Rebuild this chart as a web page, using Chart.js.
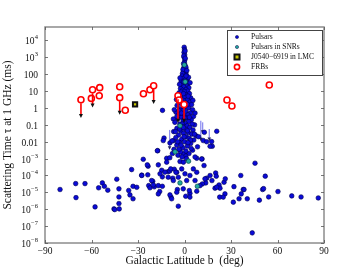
<!DOCTYPE html>
<html><head><meta charset="utf-8">
<script src="https://cdn.jsdelivr.net/npm/chart.js@4/dist/chart.umd.min.js"></script>
<style>html,body{margin:0;padding:0;background:#fff}#wrap{width:360px;height:270px;position:relative}</style>
</head><body><div id="wrap"><canvas id="c" width="360" height="270"></canvas></div>
<script>
// ---------- DATA ----------
const xTickValues = [-90, -60, -30, 0, 30, 60, 90];
const xTickLabels = ['\u221290', '\u221260', '\u221230', '0', '30', '60', '90'];
const yTickValues = [1e-8, 1e-7, 1e-6, 1e-5, 1e-4, 1e-3, 1e-2, 1e-1, 1, 10, 100, 1e3, 1e4];
const yTickBase = ['10', '10', '10', '10', '10', '10', '0.01', '0.1', '1', '10', '100', '10', '10'];
const yTickSup  = ['\u22128', '\u22127', '\u22126', '\u22125', '\u22124', '\u22123', '', '', '', '', '', '3', '4'];

// pulsars: [galactic latitude b (deg), log10 scattering time (ms)]
const pulsarPoints = [
 [-80.3,-4.83],[-70.2,-4.48],[-70,-5.31],[-64.2,-4.48],[-57.7,-5.86],[-55.4,-4.73],[-53,-4.44],[-51.7,-4.64],
 [-49.5,-4.87],[-45.5,-5.98],[-45.0,-6.02],[-43.7,-4.22],[-42.3,-4.79],[-42.3,-5.27],[-42.3,-5.66],[-42.1,-5.98],
 [-36,-4.89],[-35.2,-5.15],[-34.1,-3.65],[-33.2,-5.38],[-33.2,-4.64],[-30.8,-4.7],[-27.6,-3.98],[-26.6,-3.04],
 [-23.5,-3.45],[-23.7,-3.96],[-23.1,-4.6],[-22.3,-4.73],[-20.5,-4.34],[-19.5,-4.67],[-16.9,-3.37],[-16.9,-4.6],
 [-16,-4.95],[-17.3,-2.53],[-14.7,-3.69],[-14.3,-4.08],[-14.3,-4.64],[-11.5,-2.98],[-10.5,-3.77],[-9.5,-3.73],
 [-8.7,-5.28],[-7.6,-4.16],[-6.6,-3.63],[-5,-3.81],[-4.6,-4.83],[-4,-5.82],[-7,-1.93],
 [0.8,-5.23],[3.5,-5.05],[7.9,-4.93],[11.3,-3.02],[12.6,-3.41],[14.3,-4.16],[13.7,-4.44],[11.5,-4.5],
 [17.9,-2.27],[17.7,-4.3],[20.1,-3.85],[20.5,-4.04],[22.3,-4.56],[19.7,-4.75],[22.9,-4.75],[22.7,-5.28],
 [25.5,-4.4],[26.3,-4.2],[26.1,-5.09],[25,-5.28],[31.9,-4.66],[31.5,-5.58],[35.2,-5.38],[36.6,-5.09],
 [37.9,-4.83],[40.5,-5.38],[36.3,-4.0],[45.5,-3.27],[43.7,-7.4],[48.3,-5.46],[50.4,-4.83],[51.0,-4.78],
 [52.1,-4.04],[54.3,-5.27],[60.3,-4.95],[69.2,-5.21],[75.2,-5.27],[86.3,-5.33],[38.4,-4.83],
 [-13.2,-1.78],[-9.4,-2.07],[-17.5,-2.53],[-11.5,-3.21],[-15.8,-3.9],[-12.6,-3.8],[-10.5,-4.1],[-8.9,-3.61],
 [-7.2,-4.3],[-5.5,-3.81],[-4,-4.1],[-1.8,-3.61],[0.3,-3.9],[1.4,-4.3],[3.5,-4.0],[5.7,-3.61],[6.8,-4.3],
 [7.9,-3.81],[10,-4.6],[13.2,-4.2],[16.5,-4.0],[20.8,-4.69],[3.1,-4.89],[-0.8,-4.79],[-5,-4.99],[-9.4,-5.15],
 [-16.9,-5.09],[-8.3,-5.38],[3.5,-5.28],[7.9,-2.98],[-0.8,-2.72],[-2.9,-3.17],[-0.7,-3.21],[11.1,-3.02],
 [20.8,-1.38],[17.5,-1.99],[16.5,-2.27],[12.1,-1.93],[-13.7,-1.93],[-24,-3.37],[-21.2,-4.3],[-20.1,-4.56],
 [-27.6,-4.0],[-14.2,-0.14],[-7.2,-0.65],[14.3,-2.0],[12.8,-1.44],
 [-0.2,3.6],[0,3.45],[-0.3,3.3],[0.1,3.15],[-0.2,3.0],[0.2,2.85],[-0.1,2.7],[0.3,2.55],[-0.4,2.4],[0.5,2.3],
 [-0.6,2.2],[0.8,2.1],[-0.2,2.0],[1.2,1.95],[0.4,3.38],[-0.5,3.08],[0.5,2.95],[-0.6,2.62],[0.9,2.42],[-1.0,2.28],
 [1.5,2.22],[-1.3,2.05],[-1.5,1.9],[0.6,1.85],[-0.8,1.75],[1.8,1.7],[0.2,1.65],[-2.2,1.6],[1.1,1.55],[-1.1,1.5],
 [2.4,1.45],[0.4,1.4],[-1.8,1.35],[1.6,1.3],[-0.5,1.25],[2.8,1.2],[-2.6,1.15],[0.9,1.1],[-1.3,1.05],[2.1,1.0],
 [-0.2,0.98],[-2.9,1.78],[2.6,1.82],[-3.2,1.4],[3.6,1.5],[1.0,1.9],[-0.4,1.55],[-3.5,0.9],[3.2,0.85],[-1.5,0.8],
 [1.2,0.75],[-4.2,0.7],[0.1,0.65],[4.0,0.6],[-2.5,0.55],[2.0,0.5],[-0.8,0.45],[-3.8,0.4],[3.5,0.35],[0.7,0.3],
 [-1.9,0.25],[4.6,0.2],[-4.8,0.15],[1.5,0.1],[-0.3,0.05],[2.8,0.0],[-2.9,-0.05],[5.2,-0.1],[-1.2,-0.15],
 [0.9,-0.2],[-5.5,-0.25],[3.8,-0.3],[-3.4,-0.35],[2.2,-0.4],[-0.5,-0.45],[5.8,-0.5],[-2.1,-0.55],[1.4,-0.6],
 [-4.4,-0.65],[4.4,-0.7],[-0.9,-0.75],[2.7,-0.8],[-6.2,-0.85],[0.3,-0.9],[-3.0,-0.95],[6.5,-1.0],[1.8,-1.05],
 [-2.2,0.95],[2.4,0.7],[-0.6,0.85],[-5.2,0.5],[5.4,0.45],[-1.4,0.35],[1.9,0.22],[-3.6,-0.15],[3.1,-0.55],
 [-2.0,-0.3],[0.2,-0.6],[-4.9,-0.5],[4.9,-0.95],[-1.4,-0.95],[6.8,-0.3],[-6.6,-0.1],
 [-1.6,-1.1],[3.4,-1.15],[-4.9,-1.2],[0.6,-1.25],[5.5,-1.3],[-2.4,-1.35],[-7.0,-1.4],[2.5,-1.45],[-0.7,-1.5],
 [4.7,-1.55],[-3.8,-1.6],[7.5,-1.65],[1.2,-1.7],[-5.6,-1.75],[3.0,-1.8],[-1.8,-1.85],[6.0,-1.9],[-8.0,-1.95],
 [0.0,-2.0],[-3.2,-2.05],[4.0,-2.1],[-5.0,-2.2],[1.9,-2.25],[8.4,-2.3],[-1.1,-2.35],[-6.8,-2.45],[5.2,-2.5],
 [-2.6,-2.6],[2.9,-2.7],[-4.2,-2.8],[0.8,-2.85],[6.8,-2.9],[-9.5,-2.95],
 [-3.1,-1.25],[1.9,-1.35],[-0.3,-1.7],[3.9,-1.9],[-4.4,-2.0],[2.3,-2.05],[-2.2,-2.2],[0.9,-2.55],[-5.8,-1.4],
 [6.4,-1.55],[-0.8,-1.15],[4.3,-2.4],[-3.6,-2.45],[-7.8,-2.7],[9.0,-1.7],[1.3,-3.0],[-1.6,-2.9]
];
// pulsars in supernova remnants: [b, log10 tau]
const snrPoints = [[-0.1,2.55],[0.5,1.55],[-2.9,-1.05],[-6.1,-2.6],[2.6,-3.15],[-2.9,-4.44],[8.3,-4.64]];
// pulsar upper limits: [b, log10 tau top, log10 tau arrow tip]
const pulsarLimits = [[-9.6,-1.3,-2.45],[0.9,-1.2,-2.8],[10.5,-0.75,-1.93],[11.7,-0.85,-1.5],[16.0,-1.24,-1.93]];
// J0540-6919 in LMC
const lmcB = [-31.9];
const lmcTau = [1.66];
// FRBs: b, tau (ms), arrow tip tau (null = no limit arrow)
const frbB        = [-66.8, -60.1, -59.3, -54.7, -55.0, -41.8, -41.8, -38.2, -26.5, -22.3, -19.9, -4.2, -3.5, -0.3, 27.4, 30.6, 54.7];
const frbTau      = [3.1,   3.7,   12,    16,    5.3,   18,    4.1,   0.73,  7,     12,    21,    5.3,  3.0,  1.6,  3.0,  1.3,  23];
const frbLimitTau = [0.28,  null,  1.2,   null,  null,  null,  0.44,  null,  null,  null,  1.9,   0.15, null, 0.15, null, null, null];

// ---------- CHART ----------
const FONT = "'Liberation Serif', 'DejaVu Serif', serif";
const toXY = (arr) => arr.map(p => ({x: p[0], y: Math.pow(10, p[1])}));

const framePlugin = {
  id: 'frame',
  beforeDatasetsDraw(chart) {
    const {ctx, chartArea: a, scales: {x, y}} = chart;
    ctx.save();
    ctx.beginPath(); ctx.rect(a.left, a.top, a.right - a.left, a.bottom - a.top); ctx.clip();
    pulsarLimits.forEach(([b, t, tip]) => {
      const px = x.getPixelForValue(b), y0 = y.getPixelForValue(Math.pow(10, t)), y1 = y.getPixelForValue(Math.pow(10, tip));
      ctx.strokeStyle = '#8f8ff0'; ctx.lineWidth = 1.3;
      ctx.beginPath(); ctx.moveTo(px, y0); ctx.lineTo(px, y1 - 2); ctx.stroke();
      ctx.fillStyle = '#202060';
      ctx.beginPath(); ctx.moveTo(px - 1.8, y1 - 3); ctx.lineTo(px + 1.8, y1 - 3); ctx.lineTo(px, y1 + 0.5); ctx.closePath(); ctx.fill();
    });
    ctx.restore();
  },
  afterDatasetsDraw(chart) {
    const {ctx, chartArea: a, scales: {x, y}} = chart;
    ctx.save();
    frbB.forEach((b, i) => {
      if (frbLimitTau[i] === null) return;
      const px = x.getPixelForValue(b), y0 = y.getPixelForValue(frbTau[i]) + 3.5, y1 = y.getPixelForValue(frbLimitTau[i]);
      ctx.strokeStyle = '#ff0000'; ctx.lineWidth = 1.6;
      ctx.beginPath(); ctx.moveTo(px, y0); ctx.lineTo(px, y1 - 2); ctx.stroke();
      ctx.fillStyle = '#111';
      ctx.beginPath(); ctx.moveTo(px - 2, y1 - 3.2); ctx.lineTo(px + 2, y1 - 3.2); ctx.lineTo(px, y1 + 0.8); ctx.closePath(); ctx.fill();
    });
    ctx.restore();
  },
  afterDraw(chart) {
    const {ctx, chartArea: a, scales: {x, y}} = chart;
    ctx.save();
    ctx.strokeStyle = '#8c8c8c'; ctx.lineWidth = 1.5;
    ctx.strokeRect(a.left, a.top, a.right - a.left, a.bottom - a.top);
    ctx.strokeStyle = '#555'; ctx.lineWidth = 0.8;
    const L = 3;
    xTickValues.forEach(v => {
      const px = Math.round(x.getPixelForValue(v)) + 0.5;
      ctx.beginPath(); ctx.moveTo(px, a.bottom); ctx.lineTo(px, a.bottom - L);
      ctx.moveTo(px, a.top); ctx.lineTo(px, a.top + L); ctx.stroke();
    });
    yTickValues.forEach((v, i) => {
      const py = Math.round(y.getPixelForValue(v)) + 0.5;
      ctx.beginPath(); ctx.moveTo(a.left, py); ctx.lineTo(a.left + L, py);
      ctx.moveTo(a.right, py); ctx.lineTo(a.right - L, py); ctx.stroke();
      ctx.fillStyle = '#111';
      ctx.textBaseline = 'middle';
      const xr = a.left - 7;
      if (yTickSup[i]) {
        ctx.font = '6.5px ' + FONT;
        const sw = ctx.measureText(yTickSup[i]).width;
        ctx.textAlign = 'right';
        ctx.fillText(yTickSup[i], xr, py - 3.5);
        ctx.font = '9.5px ' + FONT;
        ctx.fillText(yTickBase[i], xr - sw - 0.3, py + 0.5);
      } else {
        ctx.font = '9.5px ' + FONT;
        ctx.textAlign = 'right';
        ctx.fillText(yTickBase[i], xr, py + 0.5);
      }
    });
    const lx = 227, ly = 30, lw = 95, lh = 45;
    ctx.fillStyle = '#fff'; ctx.fillRect(lx, ly, lw, lh);
    ctx.strokeStyle = '#444'; ctx.lineWidth = 1; ctx.strokeRect(lx + 0.5, ly + 0.5, lw, lh);
    const items = ['Pulsars', 'Pulsars in SNRs', 'J0540\u22126919 in LMC', 'FRBs'];
    items.forEach((t, i) => {
      const cy = ly + 7 + i * 10, mx = 237;
      if (i === 0 || i === 1) {
        ctx.beginPath(); ctx.arc(mx, cy, 1.6, 0, Math.PI * 2);
        ctx.fillStyle = i === 0 ? '#0a0ad8' : '#22a8a0'; ctx.fill();
        ctx.strokeStyle = '#000040'; ctx.lineWidth = 0.5; ctx.stroke();
      } else if (i === 2) {
        ctx.fillStyle = '#111'; ctx.fillRect(mx - 3.5, cy - 3.5, 7, 7);
        ctx.fillStyle = '#c8c800'; ctx.fillRect(mx - 1.5, cy - 1.5, 3, 3);
      } else {
        ctx.beginPath(); ctx.arc(mx, cy, 2.6, 0, Math.PI * 2);
        ctx.fillStyle = '#fff'; ctx.fill();
        ctx.strokeStyle = '#ff0000'; ctx.lineWidth = 1.6; ctx.stroke();
      }
      ctx.fillStyle = '#111'; ctx.font = '7.5px ' + FONT;
      ctx.textAlign = 'left'; ctx.textBaseline = 'middle';
      ctx.fillText(t, 251, cy + 0.5);
    });
    ctx.restore();
  }
};

new Chart(document.getElementById('c'), {
  type: 'scatter',
  data: {
    datasets: [
      { label: 'FRBs', order: 0, data: frbB.map((b, i) => ({x: b, y: frbTau[i]})),
        pointRadius: 3, pointBackgroundColor: '#ffffff', pointBorderColor: '#ff0000', pointBorderWidth: 1.6 },
      { label: 'J0540\u22126919 in LMC', order: 1, data: lmcB.map((b, i) => ({x: b, y: lmcTau[i]})),
        pointStyle: 'rect', pointRadius: 3, pointBackgroundColor: '#c8c800', pointBorderColor: '#111', pointBorderWidth: 2 },
      { label: 'Pulsars in SNRs', order: 2, data: toXY(snrPoints),
        pointRadius: 2.3, pointBackgroundColor: '#22a8a0', pointBorderColor: '#003838', pointBorderWidth: 0.6 },
      { label: 'Pulsars', order: 3, data: toXY(pulsarPoints),
        pointRadius: 2.3, pointBackgroundColor: '#0a0ad8', pointBorderColor: '#000050', pointBorderWidth: 0.6 }
    ]
  },
  options: {
    responsive: false, animation: false, devicePixelRatio: 1,
    layout: { padding: { left: 0, top: 27, right: 36, bottom: 0 } },
    plugins: { legend: { display: false }, tooltip: { enabled: false } },
    scales: {
      x: {
        type: 'linear', min: -90, max: 90,
        afterBuildTicks: (s) => { s.ticks = xTickValues.map(v => ({value: v})); },
        afterFit: (s) => { s.height = 27; },
        grid: { display: false, drawTicks: false },
        border: { display: false },
        ticks: { padding: 3, color: '#111', font: { family: FONT, size: 9.5 },
          callback: (v) => xTickLabels[xTickValues.indexOf(v)] },
        title: { display: true, text: 'Galactic Latitude b  (deg)', color: '#111',
          font: { family: FONT, size: 11.5 }, padding: { top: 0, bottom: 2 } }
      },
      y: {
        type: 'logarithmic', min: 1e-8, max: 6.3e4,
        afterBuildTicks: (s) => { s.ticks = yTickValues.map(v => ({value: v})); },
        afterFit: (s) => { s.width = 45; },
        grid: { display: false, drawTicks: false },
        border: { display: false },
        ticks: { display: false },
        title: { display: true, text: 'Scattering Time \u03c4 at 1 GHz (ms)', color: '#111',
          font: { family: FONT, size: 11.5 }, padding: { top: 1, bottom: 0 } }
      }
    }
  },
  plugins: [framePlugin]
});
</script>
</body></html>
